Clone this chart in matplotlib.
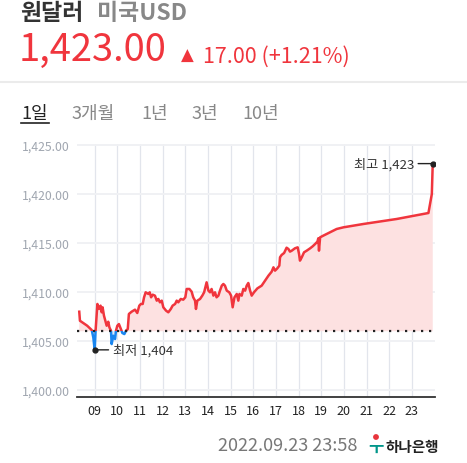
import numpy as np
import matplotlib
matplotlib.use("Agg")
import matplotlib.pyplot as plt
from matplotlib.patches import Rectangle, Circle

plt.rcParams['font.family'] = ['Noto Sans CJK KR', 'DejaVu Sans']

# 데이터 ################
# 시간(시) / 원달러 환율
hours = [8.32, 8.35, 8.67, 8.87, 8.94, 9.00, 9.04, 9.12, 9.19, 9.26, 9.31, 9.35, 9.41,
         9.47, 9.53, 9.60, 9.65, 9.72, 9.75, 9.82, 9.90, 9.94, 10.00, 10.07, 10.13,
         10.18, 10.22, 10.31, 10.38, 10.46, 10.51, 10.63, 10.78, 10.88, 10.97, 11.04,
         11.12, 11.18, 11.25, 11.37, 11.43, 11.49, 11.56, 11.66, 11.74, 11.81, 11.88,
         11.96, 12.03, 12.15, 12.25, 12.36, 12.44, 12.55, 12.62, 12.69, 12.80, 12.91,
         13.00, 13.06, 13.18, 13.28, 13.35, 13.43, 13.47, 13.53, 13.65, 13.75, 13.83,
         13.90, 13.94, 14.02, 14.09, 14.16, 14.24, 14.31, 14.38, 14.46, 14.53, 14.61,
         14.68, 14.75, 14.83, 14.94, 15.02, 15.09, 15.17, 15.27, 15.34, 15.39, 15.49,
         15.56, 15.64, 15.71, 15.78, 15.86, 15.93, 16.03, 16.18, 16.37, 16.52, 16.67,
         16.81, 16.89, 16.96, 17.06, 17.15, 17.18, 17.25, 17.36, 17.47, 17.55, 17.62,
         17.70, 17.84, 17.96, 18.02, 18.06, 18.14, 18.24, 18.36, 18.51, 18.62, 18.73,
         18.83, 18.87, 18.90, 18.95, 19.09, 19.39, 19.68, 19.98, 20.86, 22.33, 23.73,
         23.88, 23.92]
rates = [1407.99, 1407.07, 1406.56, 1406.12, 1405.37, 1404.10, 1406.05, 1408.78, 1408.27,
         1408.61, 1407.93, 1408.44, 1407.59, 1407.07, 1406.56, 1406.97, 1406.39, 1406.05,
         1404.69, 1405.54, 1405.20, 1406.05, 1406.56, 1406.73, 1406.39, 1406.09, 1405.82,
         1405.71, 1406.05, 1406.22, 1407.76, 1407.99, 1408.20, 1407.86, 1408.61, 1408.78,
         1408.78, 1409.46, 1409.97, 1409.80, 1409.97, 1409.46, 1409.73, 1409.63, 1409.12,
         1409.29, 1408.95, 1409.12, 1408.44, 1408.10, 1407.93, 1408.27, 1408.61, 1408.78,
         1409.12, 1408.95, 1409.29, 1409.22, 1409.46, 1410.31, 1410.31, 1410.03, 1409.46,
         1409.12, 1408.27, 1409.12, 1409.29, 1409.63, 1409.97, 1410.65, 1410.99, 1410.14,
         1409.97, 1410.31, 1409.63, 1409.97, 1409.46, 1409.63, 1410.14, 1410.65, 1410.82,
         1410.65, 1410.14, 1409.97, 1409.63, 1408.44, 1409.46, 1409.80, 1409.12, 1409.80,
         1409.63, 1410.31, 1410.14, 1410.65, 1410.92, 1410.14, 1409.63, 1409.97, 1410.37,
         1410.65, 1411.16, 1411.67, 1412.07, 1412.52, 1412.18, 1412.41, 1412.69, 1413.54,
         1413.78, 1413.98, 1414.52, 1414.39, 1414.12, 1414.22, 1414.46, 1414.56, 1413.88,
         1413.20, 1413.54, 1414.05, 1414.22, 1414.46, 1414.66, 1414.90, 1415.14, 1415.48,
         1414.22, 1415.58, 1415.75, 1416.09, 1416.43, 1416.60, 1416.94, 1417.45, 1418.06,
         1420.00, 1423.10]

prev_close = 1406.0
low_label = "최저 1,404"
high_label = "최고 1,423"

x_ticks = list(range(9, 24))
x_labels = ["%02d" % h for h in x_ticks]
y_ticks = [1400, 1405, 1410, 1415, 1420, 1425]
y_labels = ["1,400.00", "1,405.00", "1,410.00", "1,415.00", "1,420.00", "1,425.00"]

title = "원달러"
subtitle = "미국USD"
price = "1,423.00"
change = "17.00 (+1.21%)"
tabs = ["1일", "3개월", "1년", "3년", "10년"]
stamp = "2022.09.23 23:58"
bank = "하나은행"
########################

W, H = 467, 464
RED = "#F0353D"
BLUE = "#1A86F0"

fig = plt.figure(figsize=(W / 100, H / 100), dpi=100)


def px(x, y):
    return x / W, 1 - y / H


# 헤더
fig.text(*px(20, 13), title, fontsize=16.5, fontweight="bold", color="#333333", va="center")
fig.text(*px(97, 13), subtitle, fontsize=16.5, fontweight="bold", color="#888888", va="center")
fig.text(*px(19, 50), price, fontsize=27.5, color=RED, va="center")
fig.text(*px(181, 56), "▲", fontsize=12, color=RED, va="center", family="DejaVu Sans")
fig.text(*px(203, 57), change, fontsize=15.5, color=RED, va="center")
fig.add_artist(plt.Line2D([0, 1], [1 - 83 / H] * 2, color="#EBEBEB", lw=1.5))

tab_x = [21, 72, 141, 191, 242]
for i, (tx, t) in enumerate(zip(tab_x, tabs)):
    fig.text(*px(tx, 114), t, fontsize=13, color="#222222" if i == 0 else "#888888", va="center")
fig.add_artist(plt.Line2D([21 / W, 49 / W], [1 - 124 / H] * 2, color="#222222", lw=1.2))

# 푸터
fig.text(*px(357, 446), stamp, fontsize=13, color="#777777", va="center", ha="right")
fig.text(*px(386, 447), bank, fontsize=10.5, fontweight="bold", color="#222222", va="center")
fig.text(*px(376, 449), "ㅜ", fontsize=12, fontweight="bold", color="#00968A", va="center", ha="center")
fig.add_artist(Circle(px(376, 438), 2.2 / W, color="#E8343C", transform=fig.transFigure))

# 차트
ax = fig.add_axes([77 / W, 66 / H, 358 / W, 253 / H])
h = np.array(hours)
r = np.array(rates)

ax.fill_between(h, r, prev_close, where=r >= prev_close, interpolate=True,
                color="#FDE1E1", lw=0, zorder=1)
ax.fill_between(h, r, prev_close, where=r <= prev_close, interpolate=True,
                color="#DCEBFC", lw=0, zorder=1)

up, = ax.plot(h, r, color=RED, lw=1.8, zorder=3, solid_joinstyle="round")
dn, = ax.plot(h, r, color=BLUE, lw=1.8, zorder=3, solid_joinstyle="round")
up.set_clip_path(Rectangle((0, prev_close), 30, 100, transform=ax.transData))
dn.set_clip_path(Rectangle((0, prev_close - 100), 30, 100, transform=ax.transData))

ax.axhline(prev_close, color="#222222", lw=1.6, ls=(0, (1, 2.6)), zorder=4, clip_on=False,
           xmax=1.006)

i_lo = int(np.argmin(r))
i_hi = int(np.argmax(r))
ax.plot([h[i_lo], h[i_hi]], [r[i_lo], r[i_hi]], "o", color="#222222", ms=3.5, zorder=5)
ax.annotate("", xy=(h[i_lo], r[i_lo]), xytext=(10, 0), textcoords="offset points",
            arrowprops=dict(arrowstyle="-", color="#222222", lw=1, shrinkA=0, shrinkB=0))
ax.annotate(low_label, xy=(h[i_lo], r[i_lo]), xytext=(13, 0), textcoords="offset points",
            fontsize=9.5, color="#333333", va="center", ha="left")
ax.annotate("", xy=(h[i_hi], r[i_hi]), xytext=(-10.5, 0), textcoords="offset points",
            arrowprops=dict(arrowstyle="-", color="#222222", lw=1, shrinkA=0, shrinkB=0))
ax.annotate(high_label, xy=(h[i_hi], r[i_hi]), xytext=(-13.5, 0), textcoords="offset points",
            fontsize=9.5, color="#333333", va="center", ha="right")

ax.set_xlim(8.22, 24.02)
ax.set_ylim(1399.29, 1425.1)
ax.set_xticks(x_ticks)
ax.set_xticklabels(x_labels)
ax.set_yticks(y_ticks)
ax.set_yticklabels(y_labels)
ax.tick_params(axis="x", length=0, pad=5, labelsize=9, labelcolor="#222222")
ax.tick_params(axis="y", length=0, pad=5, labelsize=8.8, labelcolor="#A0A6B0")
ax.grid(axis="x", color="#E2E5EC", lw=0.9, zorder=0)
ax.grid(axis="y", color="#F0F1F4", lw=1.4, zorder=0)
ax.set_axisbelow(True)
for s in ["left", "top", "right"]:
    ax.spines[s].set_visible(False)
ax.spines["bottom"].set_color("#333333")
ax.spines["bottom"].set_linewidth(1.3)

fig.savefig("out.png", dpi=100)
